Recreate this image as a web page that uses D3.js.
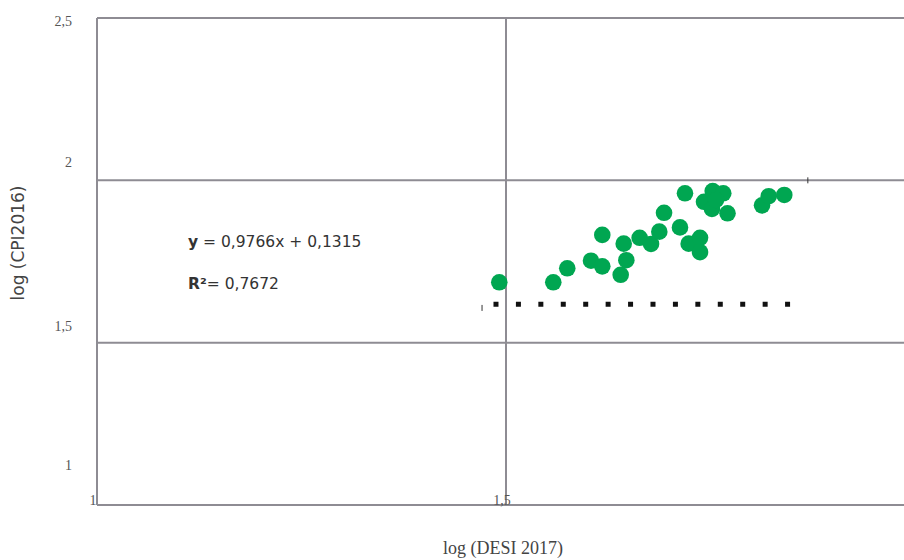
<!DOCTYPE html>
<html><head><meta charset="utf-8">
<script src="https://cdn.jsdelivr.net/npm/d3@7"></script>
<style>body{margin:0;background:#fff}svg{display:block}</style>
</head><body>
<svg id="c" width="904" height="560"></svg>
<script>
const desiLog = [1.4918,1.5578,1.5749,1.6039,1.6177,1.6177,1.6402,1.6471,1.6439,1.6634,1.6773,1.6874,1.6932,1.7127,1.7188,1.7233,1.7372,1.7372,1.7421,1.7527,1.7656,1.7518,1.7567,1.7708,1.8130,1.8212,1.8402];
const cpiLog  = [1.686,1.686,1.729,1.7525,1.735,1.832,1.709,1.754,1.805,1.823,1.804,1.842,1.900,1.855,1.960,1.805,1.823,1.779,1.934,1.967,1.960,1.912,1.9395,1.8985,1.923,1.951,1.955];
const xTicks = [1, 1.5];
const yTicks = [1, 1.5, 2, 2.5];
const xTickLabels = ["1", "1,5"];
const yTickLabels = ["1", "1,5", "2", "2,5"];
const trendX = [1.4847, 1.8478];
const trendY = [1.618, 1.618];
const markX = [1.4707, 1.869];
const markY = [1.607, 2.0];
const equation = "= 0,9766x + 0,1315";
const r2 = "= 0,7672";

const svg = d3.select("#c");
const x = d3.scaleLinear().domain([1, 2]).range([97, 915]);
const y = d3.scaleLinear().domain([1, 2.5]).range([505, 18]);
const grid = "#8e8c93";

// gridlines
svg.append("g").selectAll("line").data(yTicks).join("line")
  .attr("x1", x(1)).attr("x2", 904)
  .attr("y1", d => y(d)).attr("y2", d => y(d))
  .attr("stroke", grid).attr("stroke-width", 2);
svg.append("g").selectAll("line").data(xTicks).join("line")
  .attr("x1", d => x(d)).attr("x2", d => x(d))
  .attr("y1", y(2.5)).attr("y2", y(1))
  .attr("stroke", grid).attr("stroke-width", 2);

// y tick labels (odd offsets as in the reference)
const yOff = {1: -35, 1.5: -12, 2: -13, 2.5: 8};
svg.append("g").selectAll("text").data(yTicks).join("text")
  .attr("x", 72).attr("y", d => y(d) + yOff[d])
  .attr("text-anchor", "end")
  .attr("font-family", "Liberation Serif, serif").attr("font-size", 14)
  .attr("fill", "#555")
  .text((d, i) => yTickLabels[i]);

// x tick labels
svg.append("g").selectAll("text").data(xTicks).join("text")
  .attr("x", d => x(d) - 4).attr("y", 505)
  .attr("text-anchor", "middle")
  .attr("font-family", "Liberation Serif, serif").attr("font-size", 14)
  .attr("fill", "#555")
  .text((d, i) => xTickLabels[i]);

// axis titles
svg.append("text").attr("x", 503).attr("y", 554).attr("text-anchor", "middle")
  .attr("font-family", "Liberation Serif, serif").attr("font-size", 18).attr("fill", "#444")
  .text("log (DESI 2017)");
svg.append("text").attr("transform", "translate(24,243) rotate(-90)").attr("text-anchor", "middle")
  .attr("font-family", "DejaVu Sans, sans-serif").attr("font-size", 17).attr("fill", "#444")
  .text("log (CPI2016)");

// trend dotted line
svg.append("line")
  .attr("x1", x(trendX[0])).attr("x2", x(trendX[1]))
  .attr("y1", y(trendY[0])).attr("y2", y(trendY[1]))
  .attr("stroke", "#111").attr("stroke-width", 5)
  .attr("stroke-dasharray", "5,17.43");

// small marks
svg.append("g").selectAll("line").data(markX).join("line")
  .attr("x1", d => x(d)).attr("x2", d => x(d))
  .attr("y1", (d, i) => y(markY[i]) - 3).attr("y2", (d, i) => y(markY[i]) + 3)
  .attr("stroke", "#333").attr("stroke-width", 1);

// points
svg.append("g").selectAll("circle").data(desiLog).join("circle")
  .attr("cx", d => x(d)).attr("cy", (d, i) => y(cpiLog[i]))
  .attr("r", 8.3).attr("fill", "#00a651");

// equation
const eq = svg.append("text").attr("x", 188).attr("y", 247)
  .attr("font-family", "DejaVu Sans, sans-serif").attr("font-size", 15.5).attr("fill", "#333");
eq.append("tspan").attr("font-weight", "bold").text("y");
eq.append("tspan").text(" " + equation);
const rt = svg.append("text").attr("x", 188).attr("y", 289)
  .attr("font-family", "DejaVu Sans, sans-serif").attr("font-size", 15.5).attr("fill", "#333");
rt.append("tspan").attr("font-weight", "bold").text("R²");
rt.append("tspan").text(r2);
</script>
</body></html>
